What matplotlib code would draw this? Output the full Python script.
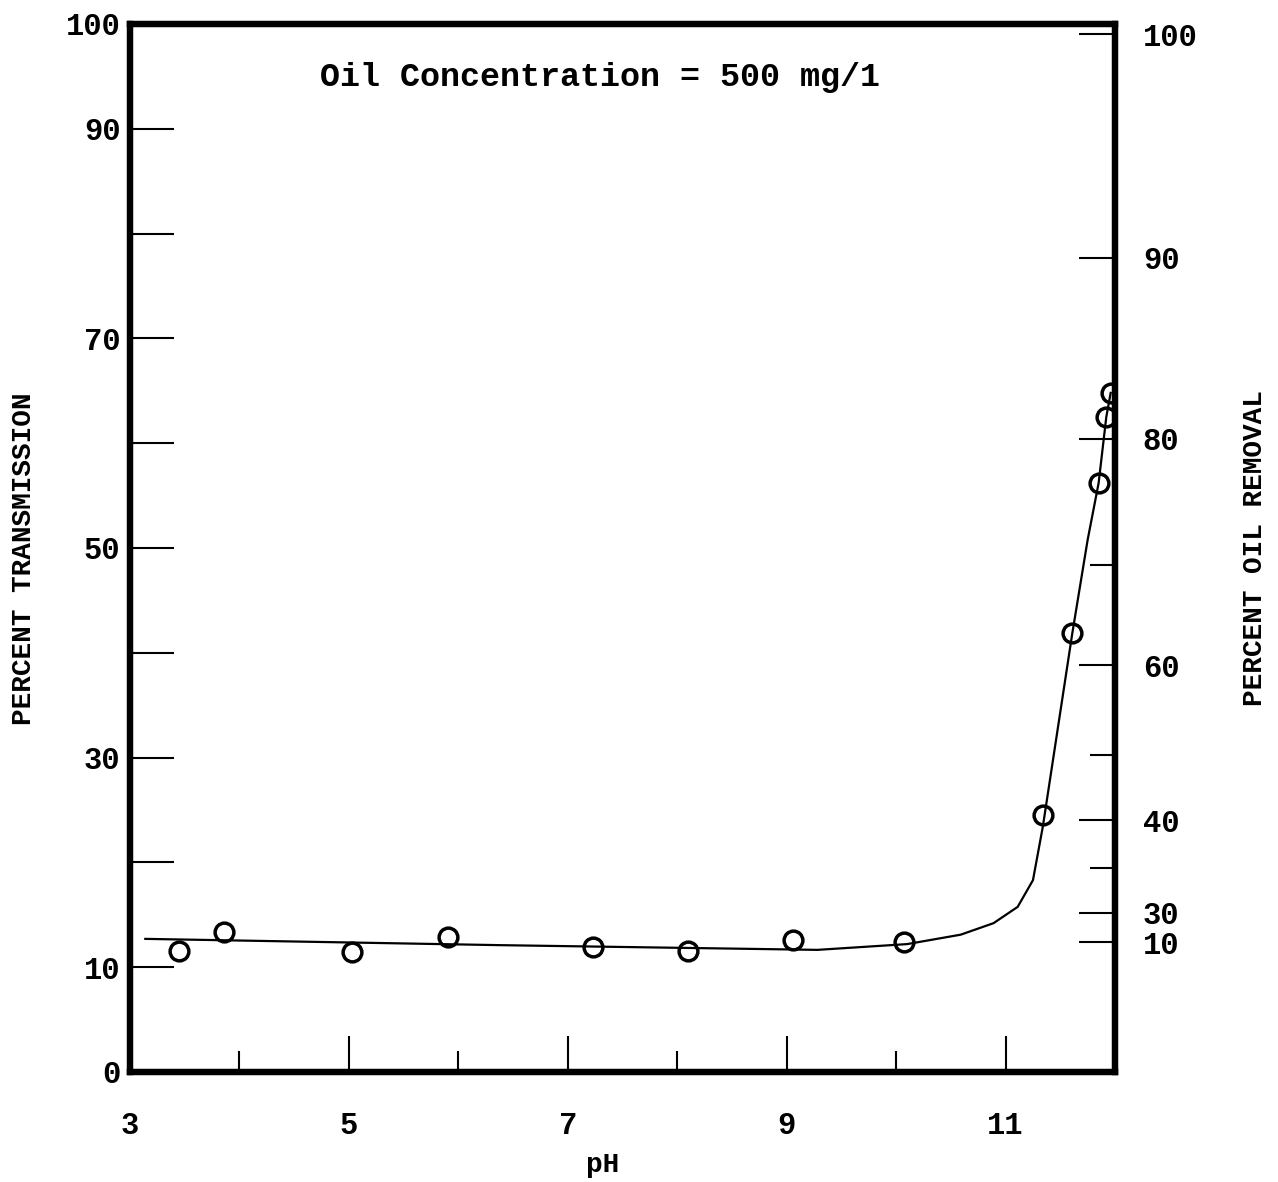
import matplotlib
matplotlib.use("Agg")
import matplotlib.pyplot as plt
from matplotlib.ticker import FixedLocator, NullFormatter

# ==== data ====
ph_points = [3.45, 3.86, 5.03, 5.91, 7.23, 8.10, 9.06, 10.07, 11.34, 11.61, 11.85, 11.92, 11.96]
trans_points = [11.5, 13.4, 11.4, 12.9, 11.9, 11.5, 12.6, 12.4, 24.5, 41.9, 56.2, 62.5, 64.8]

ph_curve = [3.14, 6.38, 9.28, 10.10, 10.59, 10.89, 11.11, 11.25, 11.34, 11.61, 11.75, 11.85, 11.92, 11.96]
trans_curve = [12.7, 12.1, 11.65, 12.2, 13.1, 14.2, 15.75, 18.3, 23.4, 41.9, 50.8, 56.2, 62.5, 64.8]

left_ticks = [0, 10, 20, 30, 40, 50, 60, 70, 80, 90, 100]
left_labels = ["0", "10", "", "30", "", "50", "", "70", "", "90", "100"]

x_major = [3, 5, 7, 9, 11]
x_minor = [4, 6, 8, 10]

# right axis (oil removal) is not linear; positions given in transmission units
removal_major = [99, 77.7, 60.4, 38.8, 24.0, 15.2, 12.4]
removal_major_labels = ["100", "90", "80", "60", "40", "30", "10"]
removal_minor = [48.4, 30.2, 19.5]

title = "Oil Concentration = 500 mg/1"

font = ["Liberation Mono", "DejaVu Sans Mono"]
plt.rcParams["font.family"] = font
plt.rcParams["font.weight"] = "bold"
plt.rcParams["axes.labelweight"] = "bold"

fig = plt.figure(figsize=(12.78, 11.82), dpi=100)
ax = fig.add_axes([0.1017, 0.0931, 0.7708, 0.8866])

ax.plot(ph_curve, trans_curve, color="black", lw=1.6)
ax.plot(ph_points, trans_points, "o", ms=13.5, mfc="none", mec="black", mew=2.5)

ax.set_xlim(3, 12)
ax.set_ylim(0, 100)

for s in ax.spines.values():
    s.set_linewidth(4.5)

ax.set_yticks(left_ticks)
ax.set_yticklabels(left_labels)
ax.tick_params(axis="y", direction="in", length=32, width=1.5, pad=7, labelsize=22)

ax.xaxis.set_major_locator(FixedLocator(x_major))
ax.xaxis.set_minor_locator(FixedLocator(x_minor))
ax.tick_params(axis="x", which="major", direction="in", length=26, width=1.5, pad=28, labelsize=22)
ax.tick_params(axis="x", which="minor", direction="in", length=15, width=1.5)

ax2 = ax.twinx()
ax2.set_ylim(0, 100)
ax2.yaxis.set_major_locator(FixedLocator(removal_major))
ax2.set_yticklabels(removal_major_labels)
ax2.yaxis.set_minor_locator(FixedLocator(removal_minor))
ax2.yaxis.set_minor_formatter(NullFormatter())
ax2.tick_params(axis="y", which="major", direction="in", length=26, width=1.5, pad=20, labelsize=22)
ax2.tick_params(axis="y", which="minor", direction="in", length=18, width=1.5)
for s in ax2.spines.values():
    s.set_linewidth(4.5)

ax.set_xlabel("pH", fontsize=20)
ax.xaxis.set_label_coords(0.48, -0.076)
ax.set_ylabel("PERCENT TRANSMISSION", fontsize=20)
ax.yaxis.set_label_coords(-0.094, 0.49)
ax2.set_ylabel("PERCENT OIL REMOVAL", fontsize=20, rotation=90)
ax2.yaxis.set_label_coords(1.129, 0.50)

ax.text(0.477, 0.949, title, transform=ax.transAxes, ha="center", va="center", fontsize=24)

fig.savefig("out.png", dpi=100)
